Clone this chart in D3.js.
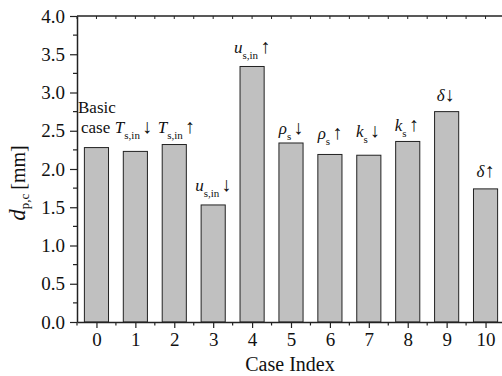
<!DOCTYPE html>
<html>
<head>
<meta charset="utf-8">
<script src="https://cdn.jsdelivr.net/npm/d3@7"></script>
<style>
  html, body { margin: 0; padding: 0; background: #fff; }
  svg { display: block; }
  text { font-family: "Liberation Serif", "Times New Roman", serif; fill: #111; }
</style>
</head>
<body>
<svg id="chart" width="502" height="376"></svg>
<script>
// ---- data ----
const categories = [0, 1, 2, 3, 4, 5, 6, 7, 8, 9, 10];
const values = [2.28, 2.23, 2.32, 1.53, 3.34, 2.34, 2.19, 2.18, 2.36, 2.75, 1.74];
const labelVar = ["", "T", "T", "u", "u", "\u03C1", "\u03C1", "k", "k", "\u03B4", "\u03B4"];
const labelSub = ["", "s,in", "s,in", "s,in", "s,in", "s", "s", "s", "s", "", ""];
const labelArrow = ["", "\u2193", "\u2191", "\u2193", "\u2191", "\u2193", "\u2191", "\u2193", "\u2191", "\u2193", "\u2191"];
// annotation baselines in data units (d_p,c)
const labelAt = [2.47, 2.467, 2.467, 1.716, 3.512, 2.458, 2.388, 2.422, 2.497, 2.893, 1.899];
const basicLines = ["Basic", "case"];
const basicAt = [2.736, 2.467];
const yTicks = [0.0, 0.5, 1.0, 1.5, 2.0, 2.5, 3.0, 3.5, 4.0];
const xTitle = "Case Index";

// ---- layout ----
const svg = d3.select("#chart");
const mLeft = 77, mRight = 505, mTop = 16, mBottom = 322;
const x = d3.scaleLinear().domain([-0.5, 10.5]).range([mLeft, mRight]);
const y = d3.scaleLinear().domain([0, 4]).range([mBottom, mTop]);
const axisColor = "#222";
const barW = x(0.31) - x(0);
const serif = '"Liberation Serif", "Times New Roman", serif';

// bars
svg.append("g").selectAll("rect")
  .data(categories)
  .join("rect")
  .attr("x", (d) => x(d) - barW)
  .attr("width", 2 * barW)
  .attr("y", (d, i) => y(values[i]))
  .attr("height", (d, i) => y(0) - y(values[i]))
  .attr("fill", "#c0c0c0")
  .attr("stroke", "#222")
  .attr("stroke-width", 1);

// frame: top and right
svg.append("line").attr("x1", mLeft).attr("x2", mRight).attr("y1", mTop).attr("y2", mTop)
  .attr("stroke", axisColor).attr("stroke-width", 1.5);
svg.append("line").attr("x1", mRight).attr("x2", mRight).attr("y1", mTop).attr("y2", mBottom)
  .attr("stroke", axisColor).attr("stroke-width", 1.5);

// top inward ticks
const topTicks = d3.range(-0.5, 10.51, 0.5);
svg.append("g").selectAll("line").data(topTicks).join("line")
  .attr("x1", (d) => x(d)).attr("x2", (d) => x(d))
  .attr("y1", mTop).attr("y2", mTop + 3)
  .attr("stroke", axisColor).attr("stroke-width", 1);

// bottom axis
const xAxis = d3.axisBottom(x).tickValues(categories).tickFormat(d3.format("d"))
  .tickSize(6).tickSizeOuter(0).tickPadding(5);
const gx = svg.append("g").attr("transform", `translate(0,${mBottom})`).call(xAxis);
gx.attr("font-family", serif).attr("font-size", 19);
gx.select(".domain").attr("stroke", axisColor).attr("stroke-width", 1.5);
gx.selectAll(".tick line").attr("stroke", axisColor).attr("stroke-width", 1.2);
gx.selectAll(".tick text").style("font-size", "19px").attr("fill", "#111")
  .style("font-family", serif);
// bottom minor ticks
const xMinor = d3.range(-0.5, 10.51, 1);
svg.append("g").selectAll("line").data(xMinor).join("line")
  .attr("x1", (d) => x(d)).attr("x2", (d) => x(d))
  .attr("y1", mBottom).attr("y2", mBottom + 3.5)
  .attr("stroke", axisColor).attr("stroke-width", 1.2);

// left axis
const yAxis = d3.axisLeft(y).tickValues(yTicks).tickFormat(d3.format(".1f"))
  .tickSize(7).tickSizeOuter(0).tickPadding(5);
const gy = svg.append("g").attr("transform", `translate(${mLeft},0)`).call(yAxis);
gy.attr("font-family", serif).attr("font-size", 19);
gy.select(".domain").attr("stroke", axisColor).attr("stroke-width", 1.5);
gy.selectAll(".tick line").attr("stroke", axisColor).attr("stroke-width", 1.2);
gy.selectAll(".tick text").style("font-size", "19px").attr("fill", "#111")
  .style("font-family", serif);
const yMinor = d3.range(0.25, 4, 0.5);
svg.append("g").selectAll("line").data(yMinor).join("line")
  .attr("x1", mLeft - 4).attr("x2", mLeft)
  .attr("y1", (d) => y(d)).attr("y2", (d) => y(d))
  .attr("stroke", axisColor).attr("stroke-width", 1.2);

// axis titles
svg.append("text").attr("x", 290).attr("y", 371)
  .attr("text-anchor", "middle").style("font-size", "20px").text(xTitle);

const yt = svg.append("text")
  .attr("transform", `translate(25,183) rotate(-90)`)
  .attr("text-anchor", "middle").style("font-size", "20px");
yt.append("tspan").style("font-style", "italic").style("font-size", "23px").text("d");
yt.append("tspan").attr("dy", 4).style("font-size", "13px").text("p,c");
yt.append("tspan").attr("dy", -4).attr("dx", 4).text("[mm]");

// annotations
const ann = svg.append("g");
basicLines.forEach((t, j) => {
  ann.append("text").attr("x", x(-0.5) + (j === 0 ? 1 : 4)).attr("y", y(basicAt[j]))
    .attr("text-anchor", "start").style("font-size", "17px").text(t);
});
const nudge = [0, -2, 2, 0, 0, 0, 0, -1, -1, -1, 0];
categories.forEach((c, i) => {
  if (!labelVar[i]) return;
  const t = ann.append("text").attr("x", x(c) + nudge[i]).attr("y", y(labelAt[i]))
    .attr("text-anchor", "middle").style("font-size", "17px");
  t.append("tspan").style("font-style", "italic").text(labelVar[i]);
  if (labelSub[i]) {
    t.append("tspan").attr("dy", 6).style("font-size", "11px").text(labelSub[i]);
    t.append("tspan").attr("dy", -6).attr("dx", 2).style("font-size", "20px").text(labelArrow[i]);
  } else {
    t.append("tspan").attr("dx", 0).style("font-size", "20px").text(labelArrow[i]);
  }
});
</script>
</body>
</html>
